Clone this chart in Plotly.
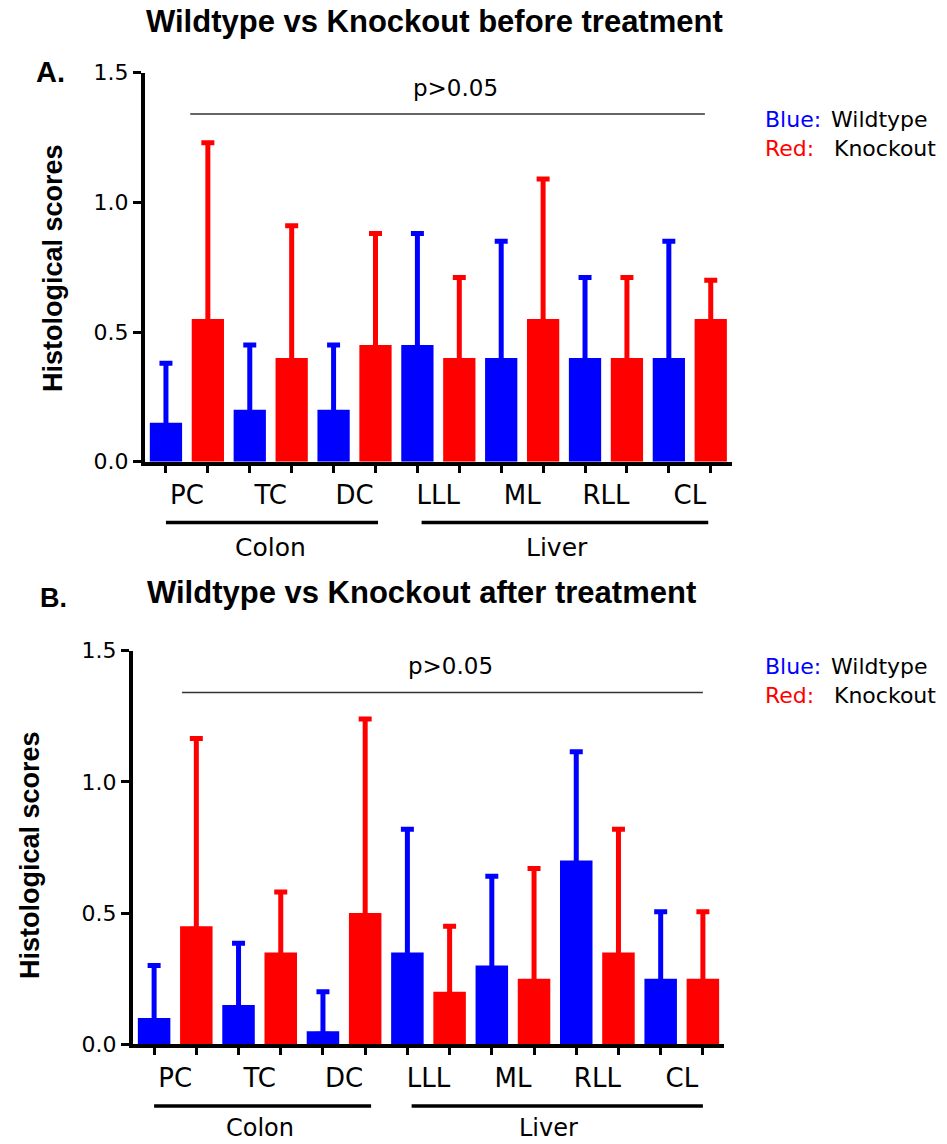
import plotly.graph_objects as go

# ---------------- data ----------------
categories = ["PC", "TC", "DC", "LLL", "ML", "RLL", "CL"]
groups = ["Colon", "Liver"]

wt_before = [0.15, 0.20, 0.20, 0.45, 0.40, 0.40, 0.40]
wt_before_err = [0.23, 0.25, 0.25, 0.43, 0.45, 0.31, 0.45]
ko_before = [0.55, 0.40, 0.45, 0.40, 0.55, 0.40, 0.55]
ko_before_err = [0.68, 0.51, 0.43, 0.31, 0.54, 0.31, 0.15]

wt_after = [0.10, 0.15, 0.05, 0.35, 0.30, 0.70, 0.25]
wt_after_err = [0.20, 0.235, 0.15, 0.47, 0.34, 0.415, 0.255]
ko_after = [0.45, 0.35, 0.50, 0.20, 0.25, 0.35, 0.25]
ko_after_err = [0.715, 0.23, 0.74, 0.25, 0.42, 0.47, 0.255]

y_ticks = [0.0, 0.5, 1.0, 1.5]
p_text = "p>0.05"

BLUE = "#0000FF"
RED = "#FF0000"
W, H = 947, 1144
REG = "DejaVu Sans"
BOLD = "Liberation Sans"

xpos = list(range(len(categories)))


def px(v):
    return v / W


def py(v):
    return 1 - v / H


fig = go.Figure()


def add_bars(vals, errs, color, name, xa, ya):
    # lower whisker hidden inside the bar (only the upper error is shown)
    fig.add_trace(go.Bar(
        x=xpos, y=vals, name=name, xaxis=xa, yaxis=ya,
        marker=dict(color=color, line=dict(width=0)),
        error_y=dict(type="data", symmetric=False, array=errs,
                     arrayminus=[0.012] * len(errs), color=color,
                     thickness=5, width=6.5),
        showlegend=False,
    ))


add_bars(wt_before, wt_before_err, BLUE, "Wildtype", "x", "y")
add_bars(ko_before, ko_before_err, RED, "Knockout", "x", "y")
add_bars(wt_after, wt_after_err, BLUE, "Wildtype", "x2", "y2")
add_bars(ko_after, ko_after_err, RED, "Knockout", "x2", "y2")

minor_vals = []
for i in xpos:
    minor_vals += [i - 0.25, i + 0.25]


def xaxis_cfg(domain, anchor):
    return dict(
        domain=domain, anchor=anchor, range=[-0.5, len(categories) - 0.5],
        tickmode="array", tickvals=xpos, ticktext=categories,
        ticks="", showline=True, linewidth=4, linecolor="black",
        showgrid=False, zeroline=False, fixedrange=True, automargin=False,
        tickfont=dict(family=REG, size=26, color="black"),
        ticklabelstandoff=7,
        minor=dict(tickmode="array", tickvals=minor_vals, ticks="outside",
                   ticklen=7, tickwidth=3, tickcolor="black", showgrid=False),
    )


def yaxis_cfg(domain, anchor):
    return dict(
        domain=domain, anchor=anchor, range=[0, 1.5],
        tickmode="array", tickvals=y_ticks, tickformat=".1f",
        ticks="outside", ticklen=8, tickwidth=3, tickcolor="black",
        showline=True, linewidth=4, linecolor="black",
        showgrid=False, zeroline=False, fixedrange=True, automargin=False,
        tickfont=dict(family=REG, size=22, color="black"),
    )


layout = dict(
    template="none",
    width=W, height=H, autosize=False,
    margin=dict(l=0, r=0, t=0, b=0, pad=0),
    paper_bgcolor="white", plot_bgcolor="white",
    barmode="group", bargap=0, bargroupgap=0.23,
    showlegend=False,
    xaxis=xaxis_cfg([px(145), px(731.7)], "y"),
    yaxis=yaxis_cfg([py(461.7), py(72.7)], "x"),
    xaxis2=xaxis_cfg([px(133), px(724)], "y2"),
    yaxis2=yaxis_cfg([py(1044.3), py(650.7)], "x2"),
)
fig.update_layout(**layout)

shapes = []
annotations = []


def ann(**kw):
    kw.setdefault("showarrow", False)
    kw.setdefault("xanchor", "center")
    kw.setdefault("yanchor", "middle")
    annotations.append(kw)


panels = [
    dict(xr="x", yr="y", title="Wildtype vs Knockout before treatment",
         tx=434.5, ty=21.5, lab="A.", lx=50.5, ly=72.5, lsize=29,
         ytx=53, yty=268, p0=0.04, p1=6.18, ptx=3.21,
         gline=522.5, glab=548, gsize=25,
         colon=[-0.25, 2.28], liver=[2.8, 6.22],
         leg1=119, leg2=148),
    dict(xr="x2", yr="y2", title="Wildtype vs Knockout after treatment",
         tx=421.5, ty=592, lab="B.", lx=53, ly=598, lsize=27,
         ytx=30, yty=855, p0=0.08, p1=6.25, ptx=3.26,
         gline=1106, glab=1128, gsize=24,
         colon=[-0.25, 2.32], liver=[2.8, 6.25],
         leg1=666, leg2=695),
]

for p in panels:
    shapes.append(dict(type="line", xref=p["xr"], yref=p["yr"],
                       x0=p["p0"], x1=p["p1"], y0=1.341, y1=1.341,
                       line=dict(color="#333333", width=1.5)))
    ann(xref=p["xr"], yref=p["yr"], x=p["ptx"], y=1.44, text=p_text,
        font=dict(family=REG, size=23, color="black"))
    for (x0, x1) in [p["colon"], p["liver"]]:
        shapes.append(dict(type="line", xref=p["xr"], yref="paper",
                           x0=x0, x1=x1, y0=py(p["gline"]), y1=py(p["gline"]),
                           line=dict(color="black", width=3.5)))
    ann(xref=p["xr"], yref="paper", x=1.0, y=py(p["glab"]), text=groups[0],
        font=dict(family=REG, size=p["gsize"], color="black"))
    ann(xref=p["xr"], yref="paper", x=4.42, y=py(p["glab"]), text=groups[1],
        font=dict(family=REG, size=p["gsize"], color="black"))
    ann(xref="paper", yref="paper", x=px(p["tx"]), y=py(p["ty"]), text=p["title"],
        font=dict(family=BOLD, size=31, color="black", weight="bold"))
    ann(xref="paper", yref="paper", x=px(p["lx"]), y=py(p["ly"]), text=p["lab"],
        font=dict(family=BOLD, size=p["lsize"], color="black", weight="bold"))
    ann(xref="paper", yref="paper", x=px(p["ytx"]), y=py(p["yty"]),
        text="Histological scores", textangle=-90,
        font=dict(family=BOLD, size=27, color="black", weight="bold"))
    for txt, col, lx, ly in [("Blue:", BLUE, 763, p["leg1"]),
                             ("Wildtype", "black", 829, p["leg1"]),
                             ("Red:", RED, 763, p["leg2"]),
                             ("Knockout", "black", 832, p["leg2"])]:
        ann(xref="paper", yref="paper", x=px(lx), y=py(ly), xanchor="left",
            text=txt, font=dict(family=REG, size=22, color=col))

fig.update_layout(shapes=shapes, annotations=annotations)
fig.write_html("out.html", config={"displayModeBar": False},
               post_script="document.body.style.margin='0';document.body.style.overflow='hidden';")
